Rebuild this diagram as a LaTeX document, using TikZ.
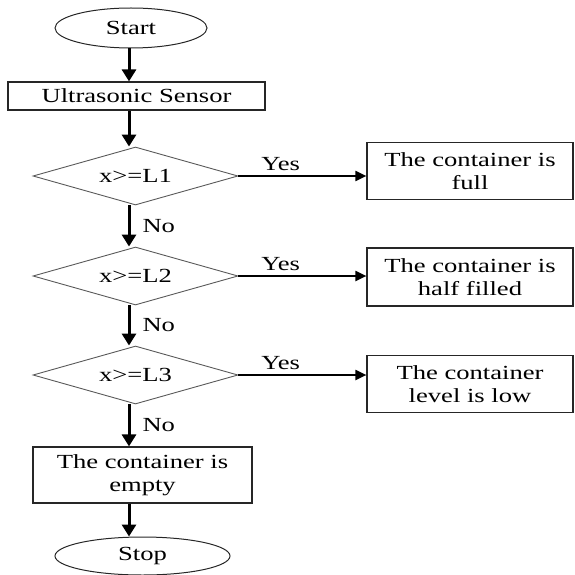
\documentclass[tikz,border=0pt]{standalone}
\usepackage{fontspec}
\setmainfont{Liberation Serif}
\usetikzlibrary{shapes.geometric,arrows.meta}
\newcommand{\wtxt}[1]{\scalebox{1.33}[1]{#1}}
\tikzset{
  base/.style={inner sep=0pt, font=\fontsize{20}{23}\selectfont, text=black, align=center},
  term/.style={base, ellipse, draw=black!85, line width=1pt},
  procbox/.style={base, rectangle, draw=black!85, line width=1.2pt},
  decide/.style={base, diamond, aspect=3.5, draw=black!65, line width=0.9pt},
  varr/.style={line width=3pt, -{Triangle[length=12pt, width=14pt]}},
  harr/.style={line width=2pt, -{Triangle[length=11pt, width=10pt]}},
  lbl/.style={base}
}
\begin{document}
\begin{tikzpicture}[x=1pt, y=-1pt]
\useasboundingbox (0,0) rectangle (574,575);
\coordinate (col) at (129,0);

\node[term, minimum width=152, minimum height=40] (start) at (131,28) {\wtxt{Start}};
\node[procbox, minimum width=257, minimum height=28] (sensor) at (136.5,96) {\wtxt{Ultrasonic Sensor}};
\node[decide, minimum width=205, minimum height=58] (d1) at (135.5,176) {\wtxt{x>=L1}};
\node[decide, minimum width=205, minimum height=58] (d2) at (135.5,276) {\wtxt{x>=L2}};
\node[decide, minimum width=205, minimum height=58] (d3) at (135.5,375) {\wtxt{x>=L3}};
\node[procbox, minimum width=206, minimum height=57] (r1) at (470,171) {\wtxt{The container is}\\\wtxt{full}};
\node[procbox, minimum width=206, minimum height=58] (r2) at (470,277) {\wtxt{The container is}\\\wtxt{half filled}};
\node[procbox, minimum width=206, minimum height=57] (r3) at (470,384) {\wtxt{The container}\\\wtxt{level is low}};
\node[procbox, minimum width=219, minimum height=56] (empty) at (142.5,475) {\wtxt{The container is}\\\wtxt{empty}};
\node[term, minimum width=175, minimum height=38] (stop) at (142.5,556) {\wtxt{Stop}};

\draw[varr] (start.south -| col) -- (sensor.north -| col);
\draw[varr] (sensor.south -| col) -- (d1.north -| col);
\draw[varr] (d1.south -| col) -- node[lbl, right=12pt] {\wtxt{No}} (d2.north -| col);
\draw[varr] (d2.south -| col) -- node[lbl, right=12pt] {\wtxt{No}} (d3.north -| col);
\draw[varr] (d3.south -| col) -- node[lbl, right=12pt] {\wtxt{No}} (empty.north -| col);
\draw[varr] (empty.south -| col) -- (stop.north -| col);

\draw[harr] (d1.east) -- node[lbl, pos=0.33, above=4pt] {\wtxt{Yes}} (r1.west |- d1.east);
\draw[harr] (d2.east) -- node[lbl, pos=0.33, above=4pt] {\wtxt{Yes}} (r2.west |- d2.east);
\draw[harr] (d3.east) -- node[lbl, pos=0.33, above=4pt] {\wtxt{Yes}} (r3.west |- d3.east);
\end{tikzpicture}
\end{document}
